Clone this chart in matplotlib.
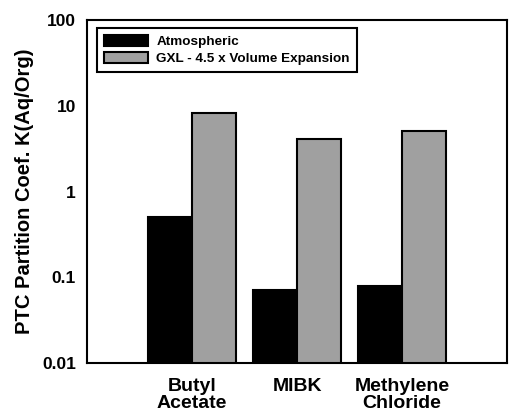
import numpy as np
import matplotlib
matplotlib.use("Agg")
import matplotlib.pyplot as plt

categories = ["Butyl\nAcetate", "MIBK", "Methylene\nChloride"]
atmospheric = [0.51, 0.071, 0.079]
gxl = [8.3, 4.15, 5.1]
series_names = ["Atmospheric", "GXL - 4.5 x Volume Expansion"]

plt.rcParams['font.family'] = ['Liberation Sans', 'DejaVu Sans']
plt.rcParams['font.weight'] = 'bold'

fig = plt.figure(figsize=(5.09, 4.16), dpi=100)
ax = fig.add_axes([0.171, 0.127, 0.825, 0.825])

x = np.arange(len(categories))
w = 0.42
ax.bar(x - w / 2, atmospheric, w, color='black', edgecolor='black', linewidth=1.5,
       label=series_names[0])
ax.bar(x + w / 2, gxl, w, color='#a0a0a0', edgecolor='black', linewidth=1.5,
       label=series_names[1])

ax.set_yscale('log')
ax.set_ylim(0.01, 100)
ax.set_xlim(-1, 3)
ax.set_yticks([0.01, 0.1, 1, 10, 100])
ax.set_yticklabels(["0.01", "0.1", "1", "10", "100"], fontsize=12.5, fontweight='bold')
ax.minorticks_off()
ax.set_xticks(x)
ax.set_xticklabels(categories, fontsize=14, fontweight='bold', linespacing=1.0)
ax.tick_params(axis='y', length=0, pad=8)
ax.tick_params(axis='x', length=0, pad=11)
ax.set_ylabel("PTC Partition Coef. K(Aq/Org)", fontsize=14.5, fontweight='bold',
              labelpad=6)
for s in ax.spines.values():
    s.set_linewidth(1.5)

leg = ax.legend(loc='upper left', bbox_to_anchor=(0.024, 0.977), fontsize=9.7,
                fancybox=False, edgecolor='black', framealpha=1,
                handlelength=3.3, handleheight=0.9, borderaxespad=0,
                labelspacing=0.3, handletextpad=0.6, borderpad=0.5)
leg.get_frame().set_linewidth(1.5)

fig.savefig("out.png", dpi=100)
